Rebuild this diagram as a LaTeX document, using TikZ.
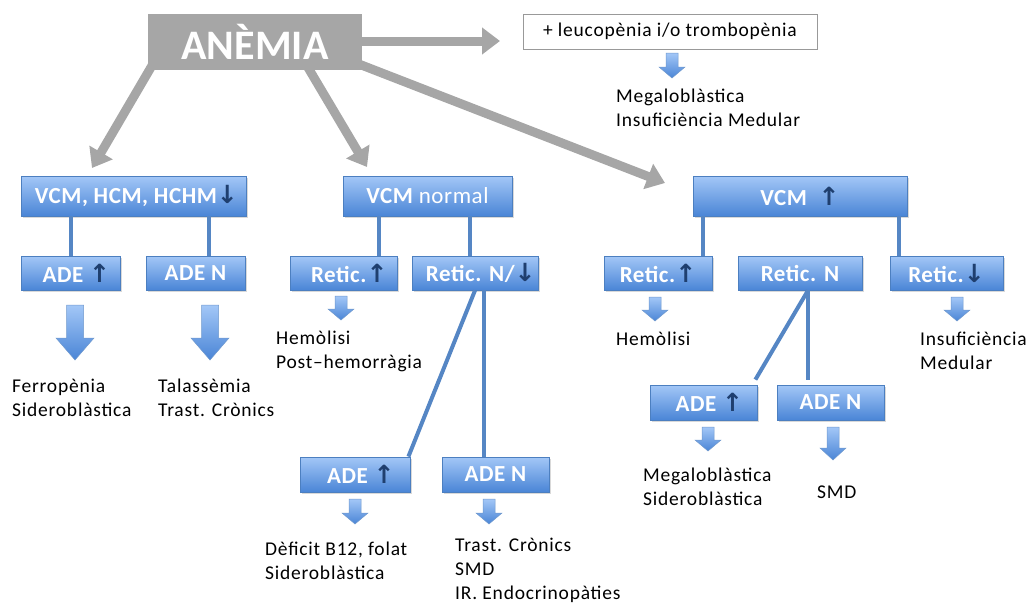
\documentclass[tikz,border=0pt]{standalone}
\usepackage{fontspec}
\setmainfont{Carlito}
\newfontfamily\dvs{DejaVu Sans}
\newfontfamily\lblf{Carlito}[LetterSpace=4]
\newfontfamily\boxf{Carlito}[LetterSpace=2.5]
\usetikzlibrary{arrows.meta,shadows,backgrounds}
\definecolor{garrow}{HTML}{A6A6A6}
\definecolor{bline}{HTML}{5586C4}
\definecolor{btop}{HTML}{A3C7F7}
\definecolor{bbot}{HTML}{4A85D6}
\definecolor{bborder}{HTML}{4C7FC0}
\definecolor{darkarr}{HTML}{1F3F6F}
\newcommand\UpA{{\dvs\bfseries\fontsize{25}{26}\selectfont\textcolor{darkarr}{↑}}}
\newcommand\DnA{{\dvs\bfseries\fontsize{25}{26}\selectfont\textcolor{darkarr}{↓}}}
\newcommand\blockarr[6]{% x, ytop, length, shaft w, head w, head len
  \shade[barrow] (#1,#2) ++({-#4/2},0) -- ++(#4,0) -- ++(0,{#3-#6})
    -- ++({(#5-#4)/2},0) -- ++({-#5/2},#6) -- ++({-#5/2},{-#6})
    -- ++({(#5-#4)/2},0) -- cycle;}
\tikzset{
  bbox/.style={draw=bborder, line width=0.8pt, top color=btop, bottom color=bbot,
    text=white, font=\boxf\fontsize{23}{26}\selectfont\bfseries, inner sep=0pt,
    drop shadow={shadow xshift=1.5pt, shadow yshift=-2pt, opacity=0.3}},
  conn/.style={draw=bline, line width=4pt},
  garr/.style={draw=garrow, line width=9pt, -{Triangle[length=18pt,width=26pt]}},
  lbl/.style={font=\lblf\fontsize{19.5}{24}\selectfont, align=left, anchor=north west, inner sep=0pt},
  barrow/.style={draw=bborder!80, line width=0.5pt, top color=btop, bottom color=bbot},
}
\begin{document}
\begin{tikzpicture}[x=1pt,y=-1pt]
\useasboundingbox (0,0) rectangle (1033,605);

% top
\node[fill=garrow, minimum width=214pt, minimum height=56pt, inner sep=0pt,
  text=white, font=\fontsize{42}{48}\selectfont\bfseries] (anemia) at (255,42) {ANÈMIA};
\node[draw=gray!80, line width=0.8pt, fill=white, minimum width=294pt, minimum height=35pt,
  inner sep=0pt, font=\lblf\fontsize{19.5}{22}\selectfont] (leuco) at (670,31.5) {+ leucopènia i/o trombopènia};

\coordinate (tr) at (500,41);
\coordinate (tl) at (92,168);
\coordinate (tm) at (367,167);
\coordinate (tx) at (665,183);
\begin{scope}[on background layer]
\draw[garr] ([yshift=1pt]anemia.east) -- (tr);
\draw[garr] ([xshift=5pt,yshift=6pt]anemia.south west) -- (tl);
\draw[garr] ([xshift=51pt,yshift=6pt]anemia.south) -- (tm);
\draw[garr] ([xshift=-6pt,yshift=-21pt]anemia.east) -- (tx);
\end{scope}

% level 1
\node[bbox, minimum width=225pt, minimum height=40pt] (b1) at (133.5,196) {\ VCM, HCM, HCHM\DnA};
\node[bbox, minimum width=169pt, minimum height=40pt] (b2) at (427.5,196) {VCM \mdseries normal};
\node[bbox, minimum width=214pt, minimum height=40pt] (b3) at (800,196) {VCM\ \ \UpA};

% level 2
\node[bbox, minimum width=99pt, minimum height=34pt] (c1) at (70.5,273) {\ \ ADE \UpA};
\node[bbox, minimum width=99pt, minimum height=34pt] (c2) at (195.5,273) {ADE N};
\node[bbox, minimum width=107pt, minimum height=34pt] (c3) at (343.5,273) {\ \ Retic.\UpA};
\node[bbox, minimum width=126pt, minimum height=34pt] (c4) at (475,273) {\ \ Retic. N/\DnA};
\node[bbox, minimum width=108pt, minimum height=34pt] (c5) at (658,273) {Retic.\UpA};
\node[bbox, minimum width=124pt, minimum height=34pt] (c6) at (800,273) {Retic. N};
\node[bbox, minimum width=113pt, minimum height=34pt] (c7) at (946.5,273) {Retic.\DnA};

% level 3
\node[bbox, minimum width=107pt, minimum height=35pt] (d1) at (703.5,402.5) {\ \ ADE \UpA};
\node[bbox, minimum width=107pt, minimum height=35pt] (d2) at (830.5,402.5) {ADE N};
\node[bbox, minimum width=110pt, minimum height=35pt] (e1) at (355,474.5) {\ \ ADE \UpA};
\node[bbox, minimum width=107pt, minimum height=35pt] (e2) at (495.5,474.5) {ADE N};

% connectors
\draw[conn] (c1.north |- b1.south) -- (c1.north);
\draw[conn] ([xshift=13.5pt]c2.north |- b1.south) -- ([xshift=13.5pt]c2.north);
\draw[conn] ([xshift=35.5pt]c3.north |- b2.south) -- ([xshift=35.5pt]c3.north);
\draw[conn] ([xshift=-5pt]c4.north |- b2.south) -- ([xshift=-5pt]c4.north);
\draw[conn] ([xshift=45pt]c5.north |- b3.south) -- ([xshift=45pt]c5.north);
\draw[conn] ([xshift=-47.5pt]c7.north |- b3.south) -- ([xshift=-47.5pt]c7.north);
\draw[conn] (c4.south) -- ([xshift=-2pt]e1.north east);
\draw[conn] ([xshift=-11.5pt]e2.north |- c4.south) -- ([xshift=-11.5pt]e2.north);
\draw[conn] ([xshift=8pt]c6.south) -- ([xshift=-2pt,yshift=5pt]d1.north east);
\draw[conn] ([xshift=-22.5pt]d2.north |- c6.south) -- ([xshift=-22.5pt,yshift=5pt]d2.north);

% block arrows
\blockarr{75}{305}{55}{17}{38}{22}
\blockarr{210}{305}{55}{17}{38}{22}
\blockarr{672}{53}{25}{12}{26}{11}
\blockarr{341}{296}{24}{12}{26}{11}
\blockarr{655}{297}{24}{12}{26}{11}
\blockarr{957}{297}{24}{12}{26}{11}
\blockarr{708}{427}{24}{12}{26}{11}
\blockarr{833}{427}{33}{12}{26}{12}
\blockarr{355}{499}{25}{12}{26}{11}
\blockarr{489}{499}{25}{12}{26}{11}

% labels
\node[lbl] (t1) at (12,376) {\rule{0pt}{16pt}Ferropènia\\Sideroblàstica};
\node[lbl] (t2) at (158,376) {\rule{0pt}{16pt}Talassèmia\\Trast. Crònics};
\node[lbl] (t3) at (276,328) {\rule{0pt}{16pt}Hemòlisi\\Post–hemorràgia};
\node[lbl] (t4) at (616,86) {\rule{0pt}{16pt}Megaloblàstica\\Insuficiència Medular};
\node[lbl] (t5) at (616,329) {\rule{0pt}{16pt}Hemòlisi};
\node[lbl] (t6) at (920,329) {\rule{0pt}{16pt}Insuficiència\\Medular};
\node[lbl] (t7) at (643,465) {\rule{0pt}{16pt}Megaloblàstica\\Sideroblàstica};
\node[lbl] (t8) at (817,482) {\rule{0pt}{16pt}SMD};
\node[lbl] (t9) at (265,539) {\rule{0pt}{16pt}Dèficit B12, folat\\Sideroblàstica};
\node[lbl] (t10) at (455,535) {\rule{0pt}{16pt}Trast. Crònics\\SMD\\IR. Endocrinopàties};
\end{tikzpicture}
\end{document}
